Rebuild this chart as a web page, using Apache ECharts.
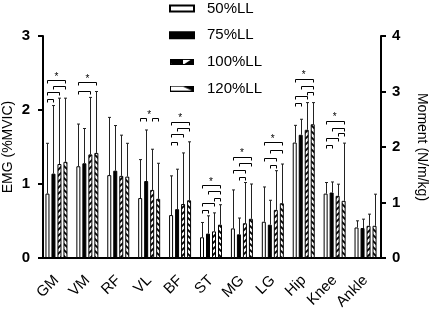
<!DOCTYPE html>
<html><head><meta charset="utf-8">
<script src="https://cdn.jsdelivr.net/npm/echarts@6/dist/echarts.min.js"></script>
<style>html,body{margin:0;padding:0;background:#fff}#c{width:429px;height:314px}</style>
</head><body><div id="c"></div><script>
// ---------- data ----------
const categories = ['GM','VM','RF','VL','BF','ST','MG','LG','Hip','Knee','Ankle'];
const jointStart = 8; // Hip, Knee, Ankle are plotted on the right (Moment) axis
const seriesNames = ['50%LL','75%LL','100%LL','120%LL'];
const mean50  = [0.87,1.24,1.12,0.81,0.58,0.28,0.40,0.49,2.08,1.16,0.55];
const mean75  = [1.14,1.28,1.18,1.04,0.66,0.33,0.32,0.45,2.22,1.18,0.54];
const mean100 = [1.27,1.40,1.11,0.92,0.73,0.36,0.47,0.65,2.31,1.12,0.58];
const mean120 = [1.30,1.42,1.10,0.80,0.78,0.45,0.53,0.74,2.41,1.03,0.58];
const top50   = [1.55,1.81,1.90,1.33,1.11,0.48,0.92,0.96,2.39,1.36,0.67];
const top75   = [2.06,1.75,1.79,1.73,1.20,0.57,0.54,0.78,2.50,1.37,0.70];
const top100  = [2.16,2.17,1.66,1.47,1.42,0.61,1.02,1.18,2.80,1.33,0.79];
const top120  = [2.16,2.25,1.55,1.28,1.57,0.72,1.00,1.27,2.80,2.07,1.15];
const leftTicks = [0,1,2,3];
const rightTicks = [0,1,2,3,4];
// significance brackets: [category, fromBar, toBar, level in that category's axis units]
const sigBrackets = [
 [0,0,3,2.41],[0,1,3,2.32],[0,0,2,2.24],[0,0,1,2.15],
 [1,0,3,2.38],[1,0,2,2.26],
 [3,0,1,1.89],[3,2,3,1.89],
 [4,0,3,1.84],[4,1,3,1.76],[4,0,2,1.67],[4,0,1,1.57],
 [5,0,3,0.99],[5,1,3,0.90],[5,2,3,0.81],[5,0,2,0.74],[5,0,1,0.65],
 [6,0,3,1.37],[6,1,3,1.28],[6,0,2,1.19],[6,1,2,1.10],
 [7,0,3,1.57],[7,1,3,1.46],[7,0,2,1.35],[7,1,2,1.26],
 [8,0,3,3.22],[8,1,3,3.10],[8,2,3,3.00],[8,0,2,2.91],[8,0,1,2.79],
 [9,0,3,2.47],[9,1,3,2.35],[9,2,3,2.25],[9,0,2,2.16],[9,0,1,2.04]
];
// stars: [category, level]
const sigStars = [[0,2.47],[1,2.45],[3,1.96],[4,1.92],[5,1.06],[6,1.45],[7,1.64],[8,3.33],[9,2.58]];

// ---------- styling helpers ----------
const means = [mean50, mean75, mean100, mean120];
const tops = [top50, top75, top100, top120];
const BAR_W = 4, BAR_GAP = 0.5;
const barCenter = i => -((4*BAR_W + 3*BAR_W*BAR_GAP)/2) + BAR_W/2 + i*BAR_W*(1+BAR_GAP);

function hatch(dir){
  const c=document.createElement('canvas'); c.width=6; c.height=6;
  const g=c.getContext('2d'); g.fillStyle='#fff'; g.fillRect(0,0,6,6);
  g.strokeStyle='#000'; g.lineWidth=1.8; g.beginPath();
  if(dir>0){ g.moveTo(-1,7); g.lineTo(7,-1); g.moveTo(-1,1); g.lineTo(1,-1); g.moveTo(5,7); g.lineTo(7,5); }
  else { g.moveTo(-1,-1); g.lineTo(7,7); g.moveTo(-1,5); g.lineTo(1,7); g.moveTo(5,-1); g.lineTo(7,1); }
  g.stroke(); return c;
}
function legendImg(kind){
  const c=document.createElement('canvas'); c.width=48; c.height=12;
  const g=c.getContext('2d'); g.fillStyle='#fff'; g.fillRect(0,0,48,12); g.fillStyle='#000';
  if(kind===2){
    g.fillRect(0,0,48,12); g.fillStyle='#fff';
    g.beginPath(); g.moveTo(26,0); g.lineTo(44,0); g.lineTo(26,12); g.closePath(); g.fill();
    g.beginPath(); g.moveTo(0,7); g.lineTo(0,12); g.lineTo(5,12); g.closePath(); g.fill();
  } else {
    g.beginPath(); g.moveTo(22,0); g.lineTo(48,0); g.lineTo(48,12); g.closePath(); g.fill();
  }
  g.strokeStyle='#000'; g.lineWidth=2; g.strokeRect(1,1,46,10);
  return 'image://'+c.toDataURL();
}
const fills = ['#ffffff','#000000',{image:hatch(1),repeat:'repeat'},{image:hatch(-1),repeat:'repeat'}];

const series = [];
for(let k=0;k<4;k++){
  const musc = means[k].map((v,i)=> i<jointStart ? v : null);
  const joint = means[k].map((v,i)=> i>=jointStart ? v : null);
  [[musc,0],[joint,1]].forEach(([d,ax])=>{
    series.push({type:'bar', name:seriesNames[k], stack:'s'+k, yAxisIndex:ax, data:d,
      barWidth:BAR_W, barGap:(BAR_GAP*100)+'%', animation:false, silent:true,
      itemStyle:{color:fills[k], borderColor:'#000', borderWidth:1}});
  });
}
function errData(ax){
  const out=[];
  for(let k=0;k<4;k++) categories.forEach((c,i)=>{
    if((i>=jointStart)===(ax===1)) out.push([i,k,means[k][i],tops[k][i]]);
  });
  return out;
}
function errRender(params, api){
  const cat=api.value(0), bi=api.value(1);
  const p=api.coord([cat, api.value(2)]), q=api.coord([cat, api.value(3)]);
  const x=Math.round(p[0]+barCenter(bi))+0.5;
  const st={stroke:'#222', lineWidth:1};
  return {type:'group', children:[
    {type:'line', shape:{x1:x,y1:p[1],x2:x,y2:q[1]}, style:st},
    {type:'line', shape:{x1:x-1.5,y1:q[1],x2:x+1.5,y2:q[1]}, style:st}
  ]};
}
function brData(ax){ return sigBrackets.filter(b=>(b[0]>=jointStart)===(ax===1)); }
function brRender(params, api){
  const cat=api.value(0);
  const p=api.coord([cat, api.value(3)]);
  const x1=Math.round(p[0]+barCenter(api.value(1)))+0.5, x2=Math.round(p[0]+barCenter(api.value(2)))+0.5;
  const y=Math.round(p[1])+0.5;
  return {type:'polyline', shape:{points:[[x1,y+3],[x1,y],[x2,y],[x2,y+3]]}, style:{stroke:'#000', lineWidth:1, fill:null}};
}
function starData(ax){ return sigStars.filter(s=>(s[0]>=jointStart)===(ax===1)); }
function starRender(params, api){
  const p=api.coord([api.value(0), api.value(1)]);
  return {type:'text', x:p[0], y:p[1]-2.5, style:{text:'*', fill:'#000', font:'10px "Liberation Sans", Arial', align:'center', verticalAlign:'top'}};
}
[0,1].forEach(ax=>{
  series.push({type:'custom', yAxisIndex:ax, data:errData(ax), renderItem:errRender, encode:{x:0,y:3}, silent:true, z:3, animation:false});
  series.push({type:'custom', yAxisIndex:ax, data:brData(ax), renderItem:brRender, encode:{x:0,y:3}, silent:true, z:3, animation:false});
  series.push({type:'custom', yAxisIndex:ax, data:starData(ax), renderItem:starRender, encode:{x:0,y:1}, silent:true, z:3, animation:false});
});

const FONT='"Liberation Sans", Arial, sans-serif';
const axisCommon = {
  type:'value', splitLine:{show:false},
  axisLine:{show:true, lineStyle:{color:'#000', width:2}},
  axisTick:{show:true, length:5, lineStyle:{color:'#000', width:2}},
  axisLabel:{color:'#000', fontSize:15, fontWeight:'bold', fontFamily:FONT},
  nameLocation:'middle', nameMoveOverlap:false, nameTextStyle:{color:'#000', fontSize:14, fontFamily:FONT}
};
const option = {
  animation:false,
  textStyle:{fontFamily:FONT},
  grid:{left:41, right:48, top:36, bottom:56, outerBoundsMode:'none', containLabel:false},
  legend:{orient:'vertical', left:164, top:-4, itemWidth:24, itemHeight:6, itemGap:11.7,
    selectedMode:false,
    textStyle:{fontSize:15, color:'#000', fontFamily:FONT, padding:[0,0,0,8]},
    data:[{name:seriesNames[0],icon:'rect'},{name:seriesNames[1],icon:'rect'},
          {name:seriesNames[2],icon:legendImg(2)},{name:seriesNames[3],icon:legendImg(3)}]},
  xAxis:{type:'category', data:categories,
    axisLine:{lineStyle:{color:'#000', width:2}},
    axisTick:{alignWithLabel:true, length:7, lineStyle:{color:'#000', width:2}},
    axisLabel:{rotate:45, interval:0, fontSize:15, color:'#000', fontFamily:FONT, margin:20}},
  yAxis:[
    Object.assign({}, axisCommon, {position:'left', offset:-2, min:leftTicks[0], max:leftTicks[leftTicks.length-1], interval:1,
      name:'EMG (%MVIC)', nameGap:28, axisLabel:Object.assign({}, axisCommon.axisLabel, {margin:13})}),
    Object.assign({}, axisCommon, {position:'right', min:rightTicks[0], max:rightTicks[rightTicks.length-1], interval:1,
      name:'Moment (N/m/kg)', nameGap:34, nameRotate:-90, axisLabel:Object.assign({}, axisCommon.axisLabel, {margin:11})})
  ],
  series:series
};
const chart = echarts.init(document.getElementById('c'), null, {renderer:'canvas'});
chart.setOption(option);
</script></body></html>
